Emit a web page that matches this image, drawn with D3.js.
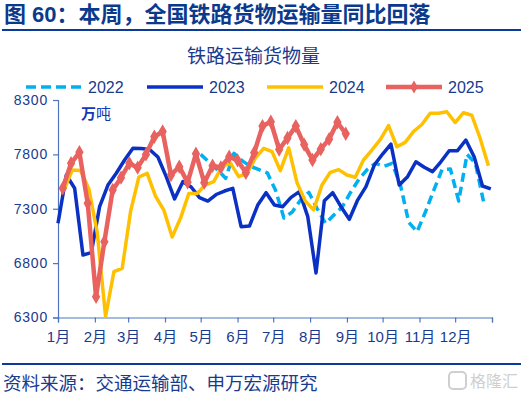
<!DOCTYPE html>
<html><head><meta charset="utf-8">
<script src="https://cdn.jsdelivr.net/npm/d3@7/dist/d3.min.js"></script>
<style>
html,body{margin:0;padding:0;background:#fff;}
svg text{font-family:"Liberation Sans","Noto Sans CJK SC",sans-serif;}
</style></head>
<body><svg id="c" width="525" height="396"></svg>
<script>
// ---- data ----
const seriesNames = ["2022","2023","2024","2025"];
const startDates = ["2022-05-01","2023-01-01","2024-01-06","2025-01-05"];
const v2022 = [7800,7730,7660,7580,7810,7740,7690,7660,7630,7470,7215,7270,7380,7450,7300,7166,7242,7315,7450,7570,7660,7718,7690,7718,7518,7175,7089,7270,7470,7660,7665,7371,7800,7720,7360];
const v2023 = [7166,7610,7488,6875,6896,7319,7518,7626,7748,7856,7854,7845,7776,7595,7390,7549,7500,7403,7371,7431,7463,7488,7135,7141,7334,7448,7334,7319,7405,7457,7230,6710,7374,7448,7319,7203,7380,7503,7702,7803,7895,7518,7595,7732,7681,7641,7732,7834,7834,7932,7779,7509,7482];
const v2024 = [7472,7656,7652,7480,7080,6310,6721,6752,7273,7592,7626,7417,7288,7040,7212,7440,7440,7520,7550,7690,7720,7595,7626,7767,7856,7825,7650,7860,7540,7370,7290,7518,7635,7660,7610,7590,7750,7840,7935,8065,7870,7910,8010,8075,8178,8178,8192,8093,8183,8160,7948,7695];
const v2025 = [7488,7718,7819,7350,6491,6997,7473,7586,7718,7678,7800,7962,8010,7610,7687,7543,7805,7540,7695,7680,7778,7745,7630,7815,8060,8100,7845,7950,8060,7890,7748,7848,7940,8095,7990];
const monthLabels = ["1月","2月","3月","4月","5月","6月","7月","8月","9月","10月","11月","12月"];
const monthStartDays = [0,31,59,90,120,151,181,212,243,273,304,334,365];
const yTicks = [6300,6800,7300,7800,8300];

const titleText = "图 60：本周，全国铁路货物运输量同比回落";
const chartTitle = "铁路运输货物量";
const unitText = ["万","吨"];
const sourceText = "资料来源：交通运输部、申万宏源研究";

const colors = ["#00B0F0","#0A31C4","#FFC000","#E8625F"];
const widths = [3.5,3.5,3.5,4.5];
const textColor = "#1A3A8E";
const axisColor = "#4F74C0";

const svg = d3.select("#c");
const x = d3.scaleLinear().domain([0,365]).range([58,492]);
const y = d3.scaleLinear().domain([6300,8300]).range([317.5,100]);

const values = [v2022,v2023,v2024,v2025];
const series = seriesNames.map((n,k)=>{
  const sd = new Date(startDates[k]+"T00:00:00");
  const y0 = new Date(sd.getFullYear(),0,1);
  const off = d3.timeDay.count(y0, sd);
  return {name:n, color:colors[k], w:widths[k], pts: values[k].map((v,i)=>({d:off+7*i, v}))};
});

// title
svg.append("text").attr("x",4).attr("y",22).attr("font-size",22).attr("font-weight","bold")
  .attr("fill","#0B3A8C").text(titleText);
svg.append("line").attr("x1",2).attr("x2",521).attr("y1",30).attr("y2",30)
  .attr("stroke","#0B3A9A").attr("stroke-width",2);

svg.append("text").attr("x",253.5).attr("y",63).attr("text-anchor","middle").attr("font-size",19)
  .attr("fill",textColor).text(chartTitle);

// legend
const legX = [26,147,267,386];
series.forEach((s,k)=>{
  const g = svg.append("g");
  const ln = g.append("line").attr("x1",legX[k]).attr("x2",legX[k]+56).attr("y1",87).attr("y2",87)
    .attr("stroke",s.color).attr("stroke-width",s.w);
  if(k===0) ln.attr("stroke-dasharray","10,5");
  if(k===3) g.append("path").attr("d",d3.symbol(d3.symbolDiamond,50)())
    .attr("transform",`translate(${legX[k]+28},87)`).attr("fill",s.color);
  g.append("text").attr("x",legX[k]+62).attr("y",93).attr("font-size",16).attr("fill",textColor).text(s.name);
});

// axes
const yAxis = d3.axisLeft(y).tickValues(yTicks).tickSize(5).tickPadding(5).tickFormat(d3.format("d"));
const gy = svg.append("g").attr("transform","translate(58,0)").call(yAxis);
gy.select(".domain").attr("stroke",axisColor).attr("stroke-width",1.2);
gy.selectAll(".tick line").attr("stroke",axisColor).attr("stroke-width",1.2);
gy.selectAll(".tick text").attr("font-size",14).attr("fill",textColor)
  .attr("font-family","'Liberation Sans',sans-serif").attr("letter-spacing","0.8px");

const xAxis = d3.axisBottom(x).tickValues(monthStartDays).tickSize(5).tickPadding(9)
  .tickFormat((d,i)=> i<monthLabels.length ? monthLabels[i] : "");
const gx = svg.append("g").attr("transform","translate(0,317.5)").call(xAxis);
gx.select(".domain").attr("stroke",axisColor).attr("stroke-width",1.2);
gx.selectAll(".tick line").attr("stroke",axisColor).attr("stroke-width",1.2);
gx.selectAll(".tick text").attr("font-size",15).attr("fill",textColor);

// unit label
const ut = svg.append("text").attr("x",81).attr("y",119).attr("font-size",15).attr("fill","#1238B8");
ut.append("tspan").attr("font-weight","bold").text(unitText[0]);
ut.append("tspan").text(unitText[1]);

// lines
const line = d3.line().x(p=>x(p.d)).y(p=>y(p.v));
series.forEach((s,k)=>{
  const p = svg.append("path").datum(s.pts).attr("d",line).attr("fill","none")
    .attr("stroke",s.color).attr("stroke-width",s.w).attr("stroke-linejoin","round");
  if(k===0) p.attr("stroke-dasharray","9,5");
  if(k===3){
    svg.append("g").selectAll("path").data(s.pts).join("path")
      .attr("d",d3.symbol(d3.symbolDiamond,60)())
      .attr("transform",p=>`translate(${x(p.d)},${y(p.v)})`).attr("fill",s.color);
  }
});

// bottom
svg.append("line").attr("x1",2).attr("x2",521).attr("y1",364).attr("y2",364)
  .attr("stroke","#0B3A9A").attr("stroke-width",2);
svg.append("text").attr("x",3).attr("y",390).attr("font-size",18.5).attr("fill",textColor).text(sourceText);
// watermark
svg.append("rect").attr("x",449).attr("y",372).attr("width",17).attr("height",17).attr("rx",4)
  .attr("fill","none").attr("stroke","#cfcfcf").attr("stroke-width",2);
svg.append("text").attr("x",470).attr("y",387).attr("font-size",16).attr("fill","#cfcfcf").text("格隆汇");
</script></body></html>
